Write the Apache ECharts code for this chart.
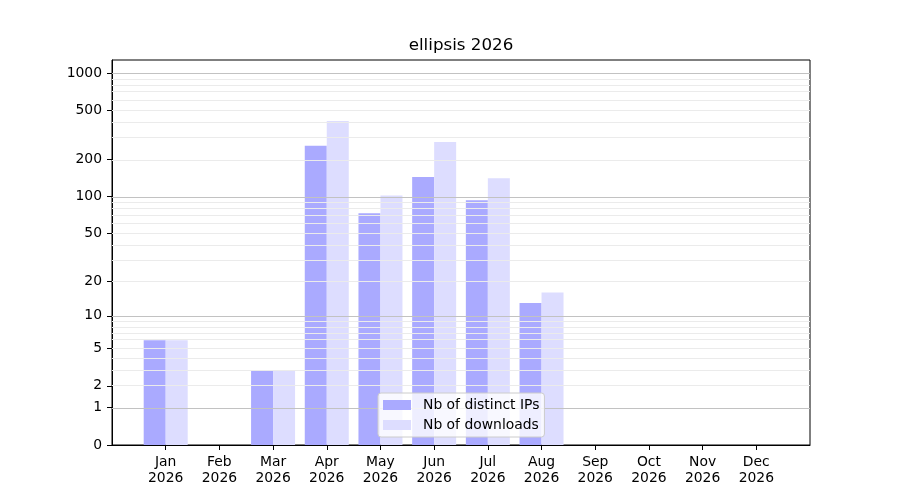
<!DOCTYPE html>
<html style="height: 100%">
  <head>
    <meta charset="utf-8" />
  </head>
  <body style="height: 100%; margin: 0; background: #fff">
    <div id="container" style="width: 900px; height: 500px"></div>

    <script
      type="text/javascript"
      src="https://cdn.jsdelivr.net/npm/echarts@6/dist/echarts.min.js"
    ></script>

    <script type="text/javascript">
      var months = ["Jan", "Feb", "Mar", "Apr", "May", "Jun", "Jul", "Aug", "Sep", "Oct", "Nov", "Dec"];
      var year = "2026";
      var distinctIPs = [6, 0, 3, 258, 73, 144, 93, 13, 0, 0, 0, 0];
      var downloads = [6, 0, 3, 410, 102, 277, 141, 16, 0, 0, 0, 0];
      var yTickValues = [0, 1, 2, 5, 10, 20, 50, 100, 200, 500, 1000];
      var majorGrid = [1, 10, 100, 1000];
      var minorGrid = [2, 3, 4, 5, 6, 7, 8, 9, 20, 30, 40, 50, 60, 70, 80, 90, 200, 300, 400, 500, 600, 700, 800, 900];

      // y axis is log10(v + 1)
      function tr(v) {
        return Math.log10(v + 1);
      }

      var dom = document.getElementById("container");
      var myChart = echarts.init(dom);
      var font = "DejaVu Sans";

      var gridLines = [];
      minorGrid.forEach(function (v) {
        gridLines.push({ yAxis: tr(v), lineStyle: { color: "#ebebeb", width: 1, type: "solid" } });
      });
      majorGrid.forEach(function (v) {
        gridLines.push({ yAxis: tr(v), lineStyle: { color: "#c2c2c2", width: 1, type: "solid" } });
      });

      var monthIdx = months.map(function (m, i) { return i; });

      var option = {
        animation: false,
        backgroundColor: "#fff",
        textStyle: { fontFamily: font },
        title: {
          text: "ellipsis " + year,
          left: 461,
          top: 37,
          padding: 0,
          textAlign: "center",
          textStyle: { fontFamily: font, fontSize: 16.7, fontWeight: "normal", color: "#000" },
        },
        legend: {
          z: 20,
          orient: "vertical",
          left: 378,
          top: 393,
          padding: [5, 5, 5, 5],
          itemGap: 6,
          itemWidth: 28,
          itemHeight: 10,
          icon: "rect",
          borderColor: "#cccccc",
          borderWidth: 1,
          borderRadius: 3,
          backgroundColor: "rgba(255,255,255,0.8)",
          textStyle: { fontFamily: font, fontSize: 13.9, color: "#000", padding: [0, 0, 0, 7] },
          data: ["Nb of distinct IPs", "Nb of downloads"],
        },
        grid: {
          left: 112,
          right: 90,
          top: 60,
          bottom: 55,
          show: true,
          borderColor: "#000",
          borderWidth: 1,
          containLabel: false,
        },
        xAxis: {
          type: "value",
          min: -1,
          max: 12,
          splitLine: { show: false },
          axisLine: { show: true, onZero: false, lineStyle: { color: "#000" } },
          axisTick: {
            show: true,
            length: 5,
            lineStyle: { color: "#000" },
            customValues: monthIdx,
          },
          axisLabel: {
            margin: 9,
            fontFamily: font,
            fontSize: 13.9,
            lineHeight: 16,
            color: "#000",
            customValues: monthIdx,
            formatter: function (v) {
              return months[Math.round(v)] + "\n" + year;
            },
          },
        },
        yAxis: {
          type: "value",
          min: 0,
          max: 3.105,
          splitLine: { show: false },
          axisLine: { show: true, onZero: false, lineStyle: { color: "#000" } },
          axisTick: {
            show: true,
            length: 5,
            lineStyle: { color: "#000" },
            customValues: yTickValues.map(tr),
          },
          axisLabel: {
            margin: 10,
            fontFamily: font,
            fontSize: 13.9,
            color: "#000",
            customValues: yTickValues.map(tr),
            formatter: function (v) {
              return String(Math.round(Math.pow(10, v) - 1));
            },
          },
        },
        series: [
          {
            name: "Nb of distinct IPs",
            type: "bar",
            barWidth: 22,
            barGap: "0%",
            itemStyle: { color: "#aaaaff", borderColor: "#aaaaff", borderWidth: 0 },
            data: distinctIPs.map(function (v, i) { return [i, tr(v)]; }),
          },
          {
            name: "Nb of downloads",
            type: "bar",
            barWidth: 22,
            barGap: "0%",
            itemStyle: { color: "#ddddff", borderColor: "#ddddff", borderWidth: 0 },
            data: downloads.map(function (v, i) { return [i, tr(v)]; }),
            markLine: {
              silent: true,
              symbol: "none",
              label: { show: false },
              animation: false,
              data: gridLines,
            },
          },
        ],
      };

      myChart.setOption(option);
    </script>
  </body>
</html>
